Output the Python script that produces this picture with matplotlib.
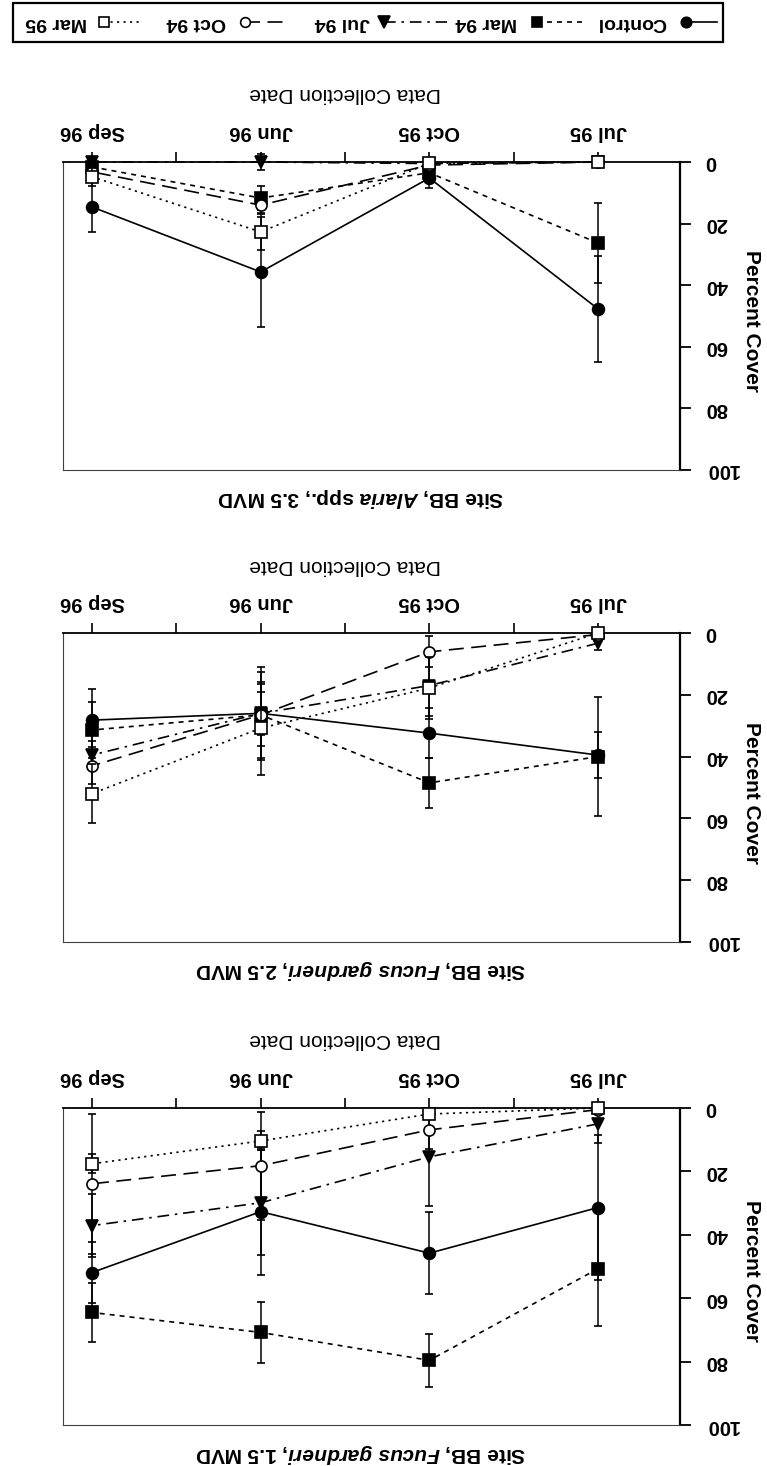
import matplotlib.pyplot as plt
from matplotlib.patches import Rectangle
from matplotlib.lines import Line2D

plt.rcParams['font.family'] = ['Liberation Sans', 'DejaVu Sans']
plt.rcParams['mathtext.fontset'] = 'custom'
plt.rcParams['mathtext.rm'] = 'Liberation Sans:bold'
plt.rcParams['mathtext.it'] = 'Liberation Sans:italic:bold'

# the whole figure is printed upside down (rotated 180 degrees)
dates = ['Jul 95', 'Oct 95', 'Jun 96', 'Sep 96']
series = ['Control', 'Mar 94', 'Jul 94', 'Oct 94', 'Mar 95']
yticks = [0, 20, 40, 60, 80, 100]

# rows: Control, Mar 94, Jul 94, Oct 94, Mar 95 ; columns follow dates
alaria35_mean = [[47.7, 5.2, 35.7, 14.6],
                 [26.3, 3.5, 11.7, 1.6],
                 [0.0, 0.5, 0.0, 0.0],
                 [0.0, 1.0, 14.0, 3.2],
                 [0.0, 0.4, 22.7, 4.8]]
alaria35_err = [[17.3, 3.2, 18.0, 8.0],
                [13.0, 2.0, 4.0, 2.0],
                [0.0, 0.5, 2.5, 0.5],
                [0.0, 0.5, 3.0, 2.0],
                [0.0, 0.0, 6.0, 3.0]]

fucus25_mean = [[39.5, 32.4, 26.0, 28.2],
                [40.0, 48.5, 26.5, 31.4],
                [3.3, 17.0, 26.0, 39.5],
                [0.5, 6.1, 26.5, 43.0],
                [0.0, 17.8, 30.8, 52.0]]
fucus25_err = [[7.3, 8.0, 15.0, 10.0],
               [19.3, 8.0, 10.0, 9.0],
               [2.2, 10.0, 7.0, 4.5],
               [0.0, 5.0, 14.0, 6.0],
               [0.0, 10.0, 15.0, 9.5]]

fucus15_mean = [[31.4, 45.8, 32.7, 51.9],
                [50.7, 79.6, 70.8, 64.5],
                [5.0, 15.4, 29.9, 37.1],
                [0.5, 6.9, 18.2, 23.9],
                [0.0, 1.9, 10.4, 17.6]]
fucus15_err = [[23.0, 13.0, 20.0, 9.6],
               [18.0, 8.3, 9.5, 9.3],
               [6.0, 15.4, 16.6, 10.0],
               [0.0, 6.0, 17.0, 22.0],
               [0.0, 1.5, 3.0, 3.0]]

titles = [r'Site BB, $\it{Alaria}$ spp., 3.5 MVD',
          r'Site BB, $\it{Fucus\ gardneri}$, 2.5 MVD',
          r'Site BB, $\it{Fucus\ gardneri}$, 1.5 MVD']
means = [alaria35_mean, fucus25_mean, fucus15_mean]
errs = [alaria35_err, fucus25_err, fucus15_err]

markers = ['o', 's', 'v', 'o', 's']
faces = ['black', 'black', 'black', 'white', 'white']
msizes = [8.5, 8, 9, 8, 8]
styles = ['-', (0, (3, 3)), (0, (7, 3.5, 1.5, 3.5)), (0, (9, 4.5)), (0, (1.3, 2.6))]

W, H = 767, 1466
fig = plt.figure(figsize=(W / 100, H / 100), dpi=100)

# pixel layout of the three panels (y=0 line, y=100 line)
tops = [162, 633, 1108]
bots = [470, 942, 1425]
left_px, right_px = 63, 680

x = list(range(len(dates)))

for p in range(3):
    ax = fig.add_axes([left_px / W, 1 - bots[p] / H,
                       (right_px - left_px) / W, (bots[p] - tops[p]) / H])
    for i in range(len(series)):
        c = ax.errorbar(x, means[p][i], yerr=errs[p][i], color='black',
                        linestyle=styles[i], linewidth=1.2, marker=markers[i],
                        markersize=msizes[i], markerfacecolor=faces[i],
                        markeredgecolor='black', markeredgewidth=1.2,
                        ecolor='black', elinewidth=1.1, capsize=3, capthick=1.1,
                        zorder=3 + i)
        for art in c.get_children():
            art.set_clip_on(False)

    ax.set_xlim(3.172, -0.486)
    ax.set_ylim(100, 0)

    ax.xaxis.tick_top()
    ax.set_xticks(x, labels=dates, rotation=180, fontsize=14.5,
                  fontweight='bold')
    ax.set_xticks([0.5, 1.5, 2.5], minor=True)
    ax.tick_params(axis='x', which='both', direction='out', length=7,
                   width=1.2, pad=8)

    ax.yaxis.tick_right()
    ax.set_yticks(yticks, labels=[str(v) for v in yticks], rotation=180,
                  va='center', fontsize=14.5, fontweight='bold')
    ax.tick_params(axis='y', direction='out', length=8, width=1.3, pad=10)

    ax.spines['top'].set_linewidth(1.3)
    ax.spines['right'].set_linewidth(1.6)
    for s in ['left', 'bottom']:
        ax.spines[s].set_linewidth(0.8)
        ax.spines[s].set_color('0.25')

    fig.text(345 / W, 1 - (tops[p] - 68) / H, 'Data Collection Date',
             rotation=180, ha='center', va='center', fontsize=15)
    fig.text(752 / W, 1 - ((tops[p] + bots[p]) / 2 + 5) / H, 'Percent Cover',
             rotation=270, ha='center', va='center', fontsize=15,
             fontweight='bold')
    fig.text(361 / W, 1 - (bots[p] + 28) / H, titles[p], rotation=180,
             ha='center', va='center', fontsize=15, fontweight='bold')

# legend drawn by hand: text on the left, marker and line to the right
lax = fig.add_axes([0, 0, 1, 1])
lax.set_xlim(0, W)
lax.set_ylim(H, 0)
lax.axis('off')
lax.add_patch(Rectangle((13, 3), 710, 39, fill=False, linewidth=1.6,
                        edgecolor='black'))
text_x = [597, 455, 315, 167, 25]
mark_x = [686, 537, 384, 245, 104]
end_x = [717, 583, 447, 290, 140]
for i in range(len(series)):
    lax.text(text_x[i], 22, series[i], rotation=180, ha='left', va='center',
             fontsize=14, fontweight='bold')
    lax.add_line(Line2D([mark_x[i], end_x[i]], [22, 22], color='black',
                        linestyle=styles[i], linewidth=1.2))
    lax.add_line(Line2D([mark_x[i]], [22], marker=markers[i],
                        markersize=msizes[i] - 1, markerfacecolor=faces[i],
                        markeredgecolor='black', markeredgewidth=1.2,
                        linestyle='none'))

fig.savefig('out.png', dpi=100)
